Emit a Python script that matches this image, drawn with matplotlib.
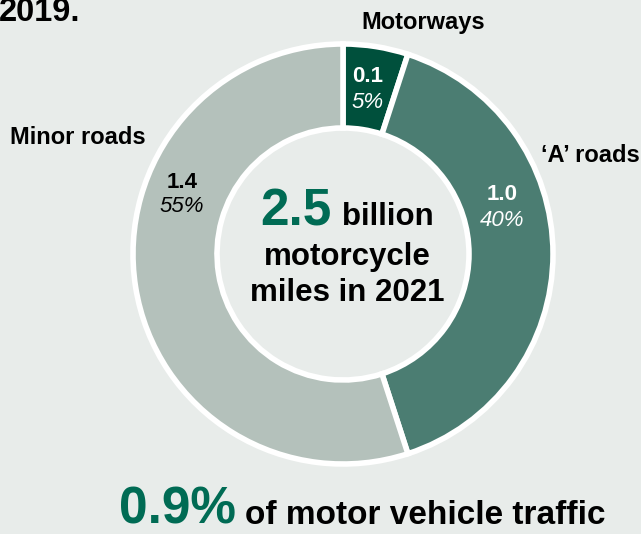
#!/usr/bin/env python3
"""Motorcycle traffic by road type, 2021 (donut)."""

import matplotlib.pyplot as plt

categories = ["Motorways", "\u2018A\u2019 roads", "Minor roads"]
miles_bn = [0.1, 1.0, 1.4]
shares = [5, 40, 55]
total_bn = 2.5
traffic_share = "0.9%"

BG = "#e8ecea"
GREEN = "#006b54"
COLORS = ["#00503c", "#4b7d72", "#b4c1bb"]
FONT = "Liberation Sans"

W, H = 641, 534


def y(px):
    # pixel row (from top) -> data y (from bottom)
    return H - px


def main():
    fig = plt.figure(figsize=(W / 100, H / 100), dpi=100, facecolor=BG)
    ax = fig.add_axes([0, 0, 1, 1])

    ax.pie(shares, colors=COLORS, startangle=90, counterclock=False,
           center=(343, y(254)), radius=210, frame=True,
           wedgeprops=dict(width=84, edgecolor="white", linewidth=4))
    ax.set_xlim(0, W)
    ax.set_ylim(0, H)
    ax.set_aspect("equal")
    ax.axis("off")

    # truncated title fragment
    ax.text(-1, y(-3), "2019.", ha="left", va="top", fontsize=23.5,
            fontweight="bold", family=FONT, color="black")

    # category labels
    ax.text(423, y(22), categories[0], ha="center", va="center", fontsize=17,
            fontweight="bold", family=FONT)
    ax.text(541, y(155), categories[1], ha="left", va="center", fontsize=17,
            fontweight="bold", family=FONT)
    ax.text(10, y(138), categories[2], ha="left", va="center", fontsize=17,
            fontweight="bold", family=FONT)

    # values inside the wedges
    value_pos = [(368, 76, 103, "white"), (502, 195, 220, "white"),
                 (182, 183, 207, "black")]
    for (x, yv, yp, col), val, pct in zip(value_pos, miles_bn, shares):
        ax.text(x, y(yv), f"{val:.1f}", ha="center", va="center", fontsize=16,
                fontweight="bold", family=FONT, color=col)
        ax.text(x, y(yp), f"{pct}%", ha="center", va="center", fontsize=16,
                style="italic", family=FONT, color=col)

    # centre text
    ax.text(331, y(225), f"{total_bn}", ha="right", va="baseline", fontsize=37,
            fontweight="bold", family=FONT, color=GREEN)
    ax.text(342, y(225), "billion", ha="left", va="baseline", fontsize=22.5,
            fontweight="bold", family=FONT)
    ax.text(347, y(265), "motorcycle", ha="center", va="baseline", fontsize=22.5,
            fontweight="bold", family=FONT)
    ax.text(347, y(301), "miles in 2021", ha="center", va="baseline", fontsize=22.5,
            fontweight="bold", family=FONT)

    # bottom statement
    ax.text(119, y(524), traffic_share, ha="left", va="baseline", fontsize=37,
            fontweight="bold", family=FONT, color=GREEN)
    ax.text(245, y(524), "of motor vehicle traffic", ha="left", va="baseline",
            fontsize=24, fontweight="bold", family=FONT)

    fig.savefig("out.png", dpi=100, facecolor=BG)
    plt.close(fig)


if __name__ == "__main__":
    main()
